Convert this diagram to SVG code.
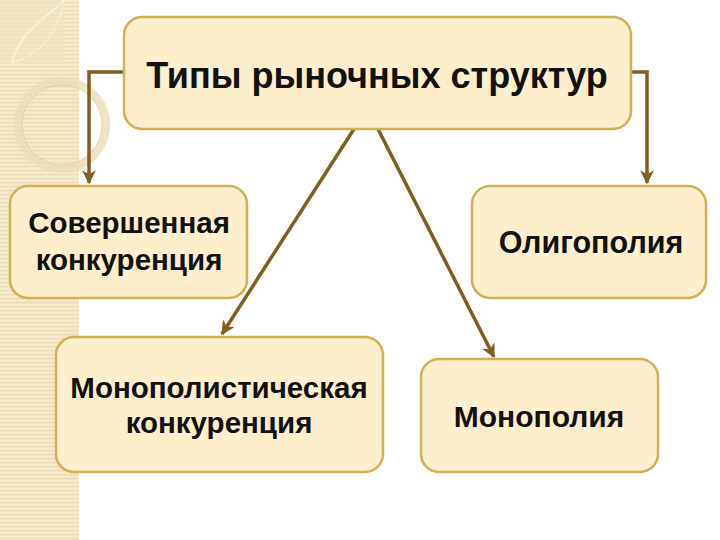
<svg xmlns="http://www.w3.org/2000/svg" width="720" height="540" viewBox="0 0 720 540">
  <defs>
    <pattern id="stripes" width="6" height="4" patternUnits="userSpaceOnUse">
      <rect width="6" height="4" fill="#f4e9cc"/>
      <rect y="2" width="6" height="1.3" fill="#e9dab3"/>
    </pattern>
    <marker id="arr" viewBox="0 0 12 12" refX="11" refY="6" markerWidth="4" markerHeight="4" orient="auto" markerUnits="strokeWidth">
      <path d="M0,0 L12,6 L0,12 L3.5,6 z" fill="#7f5f1f"/>
    </marker>
    <style>
      .box { fill: #fdefcb; stroke: #d4ae52; stroke-width: 2.5; }
      .lbl { font-family: "Liberation Sans", Arial, sans-serif; font-weight: bold; fill: #111; text-anchor: middle; }
      .conn { fill: none; stroke: #7f5f1f; stroke-width: 3.5; }
    </style>
  </defs>
  <rect width="720" height="540" fill="#ffffff"/>
  <g id="side-strip">
    <rect x="0" y="0" width="79" height="540" fill="url(#stripes)"/>
    <rect x="0" y="0" width="64" height="63" fill="#efe2c0" opacity="0.6"/>
    <path d="M12,63 C20,30 45,20 64,0" fill="none" stroke="#f8f0dc" stroke-width="2"/>
    <path d="M64,0 C60,30 40,55 12,63" fill="none" stroke="#f8f0dc" stroke-width="1.5" opacity="0.7"/>
    <circle cx="62" cy="125" r="44" fill="none" stroke="#eadcb6" stroke-width="8" opacity="0.8"/>
    <circle cx="62" cy="125" r="40" fill="none" stroke="#dccb9d" stroke-width="1" opacity="0.7"/>
  </g>
  <g id="connectors">
    <polyline class="conn" points="123,72 89,72 89,183" marker-end="url(#arr)"/>
    <polyline class="conn" points="631,72 647,72 647,183" marker-end="url(#arr)"/>
    <line class="conn" x1="354" y1="129" x2="222" y2="334" marker-end="url(#arr)"/>
    <line class="conn" x1="378" y1="129" x2="494" y2="357" marker-end="url(#arr)"/>
  </g>
  <g id="node-top">
    <rect class="box" x="124" y="17" width="507" height="112" rx="18"/>
    <text class="lbl" x="377" y="88" font-size="36">Типы рыночных структур</text>
  </g>
  <g id="node-perfect">
    <rect class="box" x="10" y="186" width="237" height="112" rx="18"/>
    <text class="lbl" x="129" y="233" font-size="29.5">Совершенная</text>
    <text class="lbl" x="129" y="270" font-size="29.5">конкуренция</text>
  </g>
  <g id="node-oligopoly">
    <rect class="box" x="472" y="186" width="234" height="112" rx="18"/>
    <text class="lbl" x="591" y="253" font-size="30.5">Олигополия</text>
  </g>
  <g id="node-monopolistic">
    <rect class="box" x="56" y="337" width="327" height="135" rx="18"/>
    <text class="lbl" x="219" y="398" font-size="29.5">Монополистическая</text>
    <text class="lbl" x="219" y="433" font-size="29.5">конкуренция</text>
  </g>
  <g id="node-monopoly">
    <rect class="box" x="421" y="359" width="237" height="113" rx="18"/>
    <text class="lbl" x="539" y="427" font-size="30">Монополия</text>
  </g>
</svg>
